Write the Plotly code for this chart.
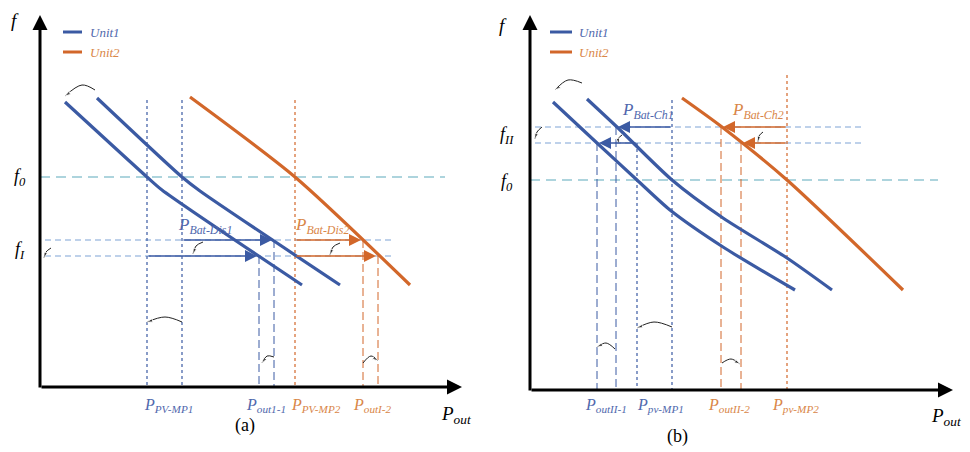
import plotly.graph_objects as go

# ---------------- data (panel units, origin at axes corner) ----------------
# Panel (a)
A_F0 = 210
A_F1 = [147, 131]
A_U1_SHIFT_P = [25, 107, 122, 262]
A_U1_SHIFT_F = [285, 210, 197, 102]
A_U1_P = [57, 142, 160, 300]
A_U1_F = [289, 210, 196, 102]
A_U2_P = [150, 255, 370]
A_U2_F = [290, 210, 102]
A_PV_MP1 = [107, 142]
A_PV_MP2 = 255
A_POUT1_1 = [219, 234]
A_POUT1_2 = [323, 338]
A_VTOP = 287

# Panel (b)
B_F0 = 210
B_FII = [263, 247]
B_U1_SHIFT_P = [23, 67, 107, 140, 193, 265]
B_U1_SHIFT_F = [288, 247, 210, 180, 143, 100]
B_U1_P = [57, 87, 142, 193, 257, 302]
B_U1_F = [291, 263, 210, 172, 132, 100]
B_U2_P = [152, 192, 257, 373]
B_U2_F = [292, 263, 210, 100]
B_PV_MP1 = [107, 142]
B_PV_MP2 = 257
B_POUTII_1 = [67, 86]
B_POUTII_2 = [191, 211]

BLUE = "#3b5aa3"
ORANGE = "#d2672a"
BLUE_TXT = "#5068ad"
ORANGE_TXT = "#d98648"
F0_COL = "#93c6d2"
F1_COL = "#a9c2e3"
FONT = "Liberation Serif"

fig = go.Figure()
ann = []


def line(xs, ys, color, width, dash="solid", ax="a", shape="linear"):
    xa, ya = ("x", "y") if ax == "a" else ("x2", "y2")
    fig.add_trace(go.Scatter(x=xs, y=ys, mode="lines", xaxis=xa, yaxis=ya,
                             line=dict(color=color, width=width, dash=dash, shape=shape, smoothing=0.7),
                             hoverinfo="skip", showlegend=False, cliponaxis=False))


def arrow(x0, y0, x1, y1, color, width, head=2, size=1.0, ax="a"):
    xa, ya = ("x", "y") if ax == "a" else ("x2", "y2")
    ann.append(dict(x=x1, y=y1, ax=x0, ay=y0, xref=xa, yref=ya, axref=xa, ayref=ya,
                    showarrow=True, arrowhead=head, arrowsize=size, arrowwidth=width,
                    arrowcolor=color, text=""))


def text(x, y, s, color="black", size=16, ax="a", anchor="center"):
    xa, ya = ("x", "y") if ax == "a" else ("x2", "y2")
    ann.append(dict(x=x, y=y, xref=xa, yref=ya, text=s, showarrow=False,
                    xanchor=anchor, font=dict(family=FONT, size=size, color=color)))


def curl(xs, ys, ax="a"):
    xa, ya = ("x", "y") if ax == "a" else ("x2", "y2")
    fig.add_trace(go.Scatter(x=xs, y=ys, mode="lines+markers", xaxis=xa, yaxis=ya,
                             line=dict(color="#222", width=1, shape="spline"),
                             marker=dict(symbol=["circle"] * (len(xs) - 1) + ["arrow"],
                                         size=[0] * (len(xs) - 1) + [6], angleref="previous",
                                         color="#222"),
                             hoverinfo="skip", showlegend=False, cliponaxis=False))


def P(sub):
    return f"<i>P<sub>{sub}</sub></i>"


# ---------------- panel (a) ----------------
line([0, 405], [A_F0, A_F0], F0_COL, 1.5, "10px,6px")
for f in A_F1:
    line([5, 352], [f, f], F1_COL, 1.5, "6px,4px")
for p in A_PV_MP1:
    line([p, p], [A_VTOP, 0], BLUE, 1.2, "3px,3px")
line([A_PV_MP2, A_PV_MP2], [A_VTOP, 0], ORANGE, 1.2, "3px,3px")
line([A_POUT1_1[0]] * 2, [A_F1[1], 0], BLUE, 1, "8px,4px")
line([A_POUT1_1[1]] * 2, [A_F1[0], 0], BLUE, 1, "8px,4px")
line([A_POUT1_2[0]] * 2, [A_F1[0], 0], ORANGE, 1, "8px,4px")
line([A_POUT1_2[1]] * 2, [A_F1[1], 0], ORANGE, 1, "8px,4px")
line(A_U1_SHIFT_P, A_U1_SHIFT_F, BLUE, 3.2, shape="spline")
line(A_U1_P, A_U1_F, BLUE, 3.2, shape="spline")
line(A_U2_P, A_U2_F, ORANGE, 3.2, shape="spline")
arrow(A_PV_MP1[1], A_F1[0], A_POUT1_1[1] - 2, A_F1[0], BLUE, 1.5, 2, 1.6)
arrow(A_PV_MP1[0], A_F1[1], A_POUT1_1[0] - 2, A_F1[1], BLUE, 1.5, 2, 1.6)
arrow(A_PV_MP2, A_F1[0], A_POUT1_2[0] - 2, A_F1[0], ORANGE, 1.5, 2, 1.6)
arrow(A_PV_MP2, A_F1[1], A_POUT1_2[1] - 2, A_F1[1], ORANGE, 1.5, 2, 1.6)
# axes
arrow(0, 0, 422, 0, "black", 3, 2, 1.0)
arrow(0, -2, 0, 372, "black", 3, 2, 1.0)
# legend
line([23, 42], [355, 355], BLUE, 3)
line([23, 42], [335, 335], ORANGE, 3)
text(48, 355, "<i>Unit1</i>", BLUE_TXT, 13, anchor="left")
text(48, 335, "<i>Unit2</i>", ORANGE_TXT, 13, anchor="left")
# labels
text(-25, 367, "<i>f</i>", "black", 19)
text(-20, A_F0, "<i>f<sub>0</sub></i>", "black", 18)
text(-20, 137, "<i>f<sub>I</sub></i>", "black", 18)
text(165, 161, P("Bat-Dis1"), BLUE_TXT, 17)
text(282, 161, P("Bat-Dis2"), ORANGE_TXT, 17)
text(128, -18, P("PV-MP1"), BLUE_TXT, 16)
text(226, -18, P("out1-1"), BLUE_TXT, 16)
text(276, -18, P("PV-MP2"), ORANGE_TXT, 16)
text(332, -18, P("outI-2"), ORANGE_TXT, 16)
text(416, -28, P("out"), "black", 19)
text(205, -38, "(a)", "black", 18)
# curled arrows
curl([55, 42, 25], [297, 302, 291])
curl([142, 125, 107], [65, 70, 65])
curl([234, 227, 222], [30, 31, 24])
curl([323, 331, 338], [24, 31, 26])
curl([11, 6, 4], [139, 135, 129])
curl([163, 156, 153], [145, 141, 133])
curl([300, 293, 290], [144, 140, 132])

# ---------------- panel (b) ----------------
line([0, 408], [B_F0, B_F0], F0_COL, 1.5, "10px,6px", ax="b")
for f in B_FII:
    line([5, 333], [f, f], F1_COL, 1.5, "6px,4px", ax="b")
line([B_PV_MP1[0]] * 2, [B_FII[1], 0], BLUE, 1.2, "3px,3px", ax="b")
line([B_PV_MP1[1]] * 2, [290, 0], BLUE, 1.2, "3px,3px", ax="b")
line([B_PV_MP2] * 2, [315, 0], ORANGE, 1.2, "3px,3px", ax="b")
line([B_POUTII_1[0]] * 2, [B_FII[1], 0], BLUE, 1, "8px,4px", ax="b")
line([B_POUTII_1[1]] * 2, [B_FII[0], 0], BLUE, 1, "8px,4px", ax="b")
line([B_POUTII_2[0]] * 2, [B_FII[0], 0], ORANGE, 1, "8px,4px", ax="b")
line([B_POUTII_2[1]] * 2, [B_FII[1], 0], ORANGE, 1, "8px,4px", ax="b")
line(B_U1_SHIFT_P, B_U1_SHIFT_F, BLUE, 3.2, ax="b", shape="spline")
line(B_U1_P, B_U1_F, BLUE, 3.2, ax="b", shape="spline")
line(B_U2_P, B_U2_F, ORANGE, 3.2, ax="b", shape="spline")
arrow(B_PV_MP1[1], B_FII[0], B_POUTII_1[1] + 2, B_FII[0], BLUE, 1.5, 2, 1.6, ax="b")
arrow(B_PV_MP1[0], B_FII[1], B_POUTII_1[0] + 2, B_FII[1], BLUE, 1.5, 2, 1.6, ax="b")
arrow(B_PV_MP2, B_FII[0], B_POUTII_2[0] + 2, B_FII[0], ORANGE, 1.5, 2, 1.6, ax="b")
arrow(B_PV_MP2, B_FII[1], B_POUTII_2[1] + 2, B_FII[1], ORANGE, 1.5, 2, 1.6, ax="b")
arrow(0, 0, 423, 0, "black", 3, 2, 1.0, ax="b")
arrow(0, -2, 0, 375, "black", 3, 2, 1.0, ax="b")
line([20, 42], [358, 358], BLUE, 3, ax="b")
line([20, 42], [338, 338], ORANGE, 3, ax="b")
text(47, 358, "<i>Unit1</i>", BLUE_TXT, 13, ax="b", anchor="left")
text(47, 338, "<i>Unit2</i>", ORANGE_TXT, 13, ax="b", anchor="left")
text(-27, 365, "<i>f</i>", "black", 19, ax="b")
text(-23, 255, "<i>f<sub>II</sub></i>", "black", 18, ax="b")
text(-23, 208, "<i>f<sub>0</sub></i>", "black", 18, ax="b")
text(118, 279, P("Bat-Ch1"), BLUE_TXT, 17, ax="b")
text(228, 279, P("Bat-Ch2"), ORANGE_TXT, 17, ax="b")
text(76, -15, P("outII-1"), BLUE_TXT, 16, ax="b")
text(130, -15, P("pv-MP1"), BLUE_TXT, 16, ax="b")
text(199, -15, P("outII-2"), ORANGE_TXT, 16, ax="b")
text(265, -15, P("pv-MP2"), ORANGE_TXT, 16, ax="b")
text(416, -27, P("out"), "black", 19, ax="b")
text(147, -46, "(b)", "black", 18, ax="b")
curl([52, 38, 25], [307, 310, 300], ax="b")
curl([142, 124, 107], [63, 68, 62], ax="b")
curl([85, 76, 67], [41, 47, 43], ax="b")
curl([192, 201, 210], [27, 31, 26], ax="b")
curl([12, 7, 5], [263, 258, 251], ax="b")
curl([92, 88, 89], [255, 251, 246], ax="b")
curl([233, 229, 228], [258, 254, 248], ax="b")

# page body adds an 8px offset, compensated in the axis ranges (1 unit = 1 px)
hidden = dict(visible=False, showgrid=False, zeroline=False, fixedrange=True)
fig.update_layout(
    width=970, height=452, margin=dict(l=0, r=0, t=0, b=0),
    paper_bgcolor="white", plot_bgcolor="white", showlegend=False,
    xaxis=dict(domain=[0, 485 / 970], range=[-32, 453], **hidden),
    yaxis=dict(domain=[0, 1], range=[-73, 379], **hidden),
    xaxis2=dict(domain=[490 / 970, 1], range=[-32, 448], anchor="y2", **hidden),
    yaxis2=dict(domain=[0, 1], range=[-70, 382], anchor="x2", **hidden),
    annotations=ann,
)
fig.write_html("out.html")
